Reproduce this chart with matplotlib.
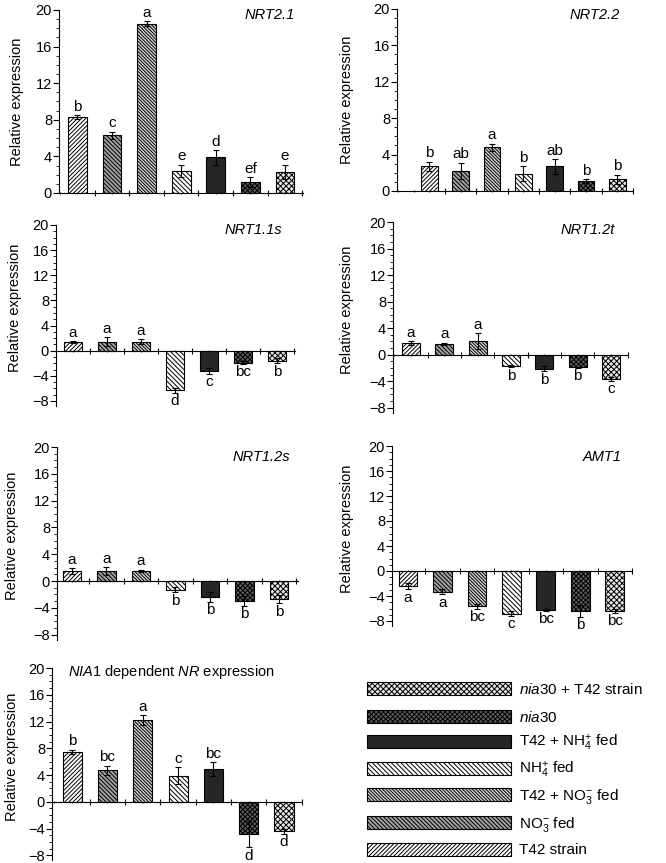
import numpy as np
import matplotlib
matplotlib.use('Agg')
import matplotlib.pyplot as plt
from matplotlib.ticker import MultipleLocator

plt.rcParams['font.family'] = ['Liberation Sans', 'DejaVu Sans']
plt.rcParams['mathtext.fontset'] = 'custom'
plt.rcParams['mathtext.rm'] = 'Liberation Sans'
plt.rcParams['mathtext.it'] = 'Liberation Sans:italic'
plt.rcParams['mathtext.bf'] = 'Liberation Sans:bold'
plt.rcParams['hatch.linewidth'] = 0.7

######## data
treatments = ['T42 strain', 'NO$_3^{-}$ fed', 'T42 + NO$_3^{-}$ fed', 'NH$_4^{+}$ fed',
              'T42 + NH$_4^{+}$ fed', r'$\it{nia30}$', r'$\it{nia30}$ + T42 strain']
xpos = [1, 2, 3, 4, 5, 6, 7]

nrt21_mean = [8.3, 6.3, 18.5, 2.4, 3.9, 1.2, 2.3]
nrt21_err = [0.2, 0.4, 0.3, 0.7, 0.8, 0.5, 0.8]
nrt21_let = ['b', 'c', 'a', 'e', 'd', 'ef', 'e']

nrt22_mean = [2.7, 2.2, 4.8, 1.9, 2.7, 1.1, 1.3]
nrt22_err = [0.5, 0.9, 0.4, 0.8, 0.8, 0.2, 0.5]
nrt22_let = ['b', 'ab', 'a', 'b', 'ab', 'b', 'b']

nrt11s_mean = [1.4, 1.4, 1.4, -6.3, -3.2, -1.9, -1.6]
nrt11s_err = [0.1, 0.7, 0.4, 0.4, 0.5, 0.2, 0.4]
nrt11s_let = ['a', 'a', 'a', 'd', 'c', 'bc', 'b']

nrt12t_mean = [1.7, 1.6, 2.0, -1.7, -2.1, -1.9, -3.6]
nrt12t_err = [0.3, 0.2, 1.2, 0.2, 0.4, 0.1, 0.3]
nrt12t_let = ['a', 'a', 'a', 'b', 'b', 'b', 'c']

nrt12s_mean = [1.5, 1.5, 1.5, -1.3, -2.4, -3.0, -2.7]
nrt12s_err = [0.4, 0.6, 0.2, 0.4, 0.7, 0.7, 0.6]
nrt12s_let = ['a', 'a', 'a', 'b', 'b', 'b', 'b']

amt1_mean = [-2.4, -3.3, -5.6, -6.8, -6.2, -6.4, -6.4]
amt1_err = [0.5, 0.4, 0.4, 0.4, 0.2, 0.9, 0.3]
amt1_let = ['a', 'a', 'bc', 'c', 'bc', 'b', 'bc']

nia1_mean = [7.5, 4.7, 12.2, 3.9, 4.9, -4.8, -4.4]
nia1_err = [0.3, 0.7, 0.7, 1.3, 1.0, 2.0, 0.4]
nia1_let = ['b', 'bc', 'a', 'c', 'bc', 'd', 'd']

######## bar styles
faces = ['white', '#a2a2a2', '#d4d4d4', 'white', '#262626', '#5e5e5e', '#e6e6e6']
hatches = ['/' * 8, '\\' * 8, '\\' * 10, '\\' * 7, '', 'x' * 7, 'x' * 6]

W, H = 666, 863
fig = plt.figure(figsize=(W / 100, H / 100), dpi=100)

# (left spine px, right end px, top px, bottom px), ylim bottom, xlim, ylabel offset px
panels = [
    (nrt21_mean, nrt21_err, nrt21_let, (59, 303, 10, 193), 0, (0.47, 7.52), 42),
    (nrt22_mean, nrt22_err, nrt22_let, (397, 633, 9, 191), 0, (-0.03, 7.48), 50),
    (nrt11s_mean, nrt11s_err, nrt11s_let, (56, 295, 225, 406), -8.8, (0.5, 7.53), 41),
    (nrt12t_mean, nrt12t_err, nrt12t_let, (393, 628, 222, 413), -8.8, (0.46, 7.51), 46),
    (nrt12s_mean, nrt12s_err, nrt12s_let, (57, 298, 447, 640), -8.8, (0.57, 7.55), 45),
    (amt1_mean, amt1_err, amt1_let, (392, 632, 446, 626), -8.8, (0.54, 7.49), 45),
    (nia1_mean, nia1_err, nia1_let, (52, 302, 668, 860), -8.7, (0.43, 7.51), 40),
]

legend_bars = None
for mean, err, let, (l, r, t, b), ybot, xl, lab_off in panels:
    ax = fig.add_axes([l / W, 1 - b / H, (r - l) / W, (b - t) / H])
    bars = []
    for i in range(7):
        bc = ax.bar(xpos[i], mean[i], width=0.54, color=faces[i], hatch=hatches[i],
                    edgecolor='black', linewidth=0.8, label=treatments[i], zorder=2)
        bars.append(bc)
    if legend_bars is None:
        legend_bars = bars
    ax.errorbar(xpos, mean, yerr=err, fmt='none', ecolor='black', elinewidth=0.8,
                capsize=2, capthick=0.8, zorder=3)
    for i in range(7):
        if mean[i] >= 0:
            ax.annotate(let[i], (xpos[i], mean[i] + err[i]), xytext=(0, 1), textcoords='offset points',
                        ha='center', va='bottom', fontsize=11)
        else:
            ax.annotate(let[i], (xpos[i], mean[i] - err[i]), xytext=(0, -1), textcoords='offset points',
                        ha='center', va='top', fontsize=11)
    ax.set_xlim(*xl)
    ax.set_ylim(ybot, 20)
    ax.spines['top'].set_visible(False)
    ax.spines['right'].set_visible(False)
    ax.spines['bottom'].set_position(('data', 0))
    ax.set_yticks(np.arange(-8 if ybot < 0 else 0, 21, 4))
    ax.yaxis.set_minor_locator(MultipleLocator(1))
    ax.set_xticks(np.arange(1.5, 7.6, 1))
    ax.xaxis.set_minor_locator(MultipleLocator(0.5))
    ax.tick_params(axis='x', which='major', direction='inout', length=5, labelbottom=False)
    ax.tick_params(axis='x', which='minor', direction='inout', length=2)
    ax.tick_params(axis='y', which='major', direction='out', length=4, labelsize=10.5, pad=1)
    ax.tick_params(axis='y', which='minor', direction='out', length=2)
    ax.set_ylabel('Relative expression', fontsize=10.5, va='center')
    ax.yaxis.set_label_coords(-lab_off / (r - l), 0.5 if ybot == 0 else 0.54)

######## gene names
fig.text(295 / W, 1 - 15 / H, 'NRT2.1', style='italic', fontsize=10.5, ha='right', va='center')
fig.text(620 / W, 1 - 15 / H, 'NRT2.2', style='italic', fontsize=10.5, ha='right', va='center')
fig.text(282 / W, 1 - 230 / H, 'NRT1.1s', style='italic', fontsize=10.5, ha='right', va='center')
fig.text(615 / W, 1 - 230 / H, 'NRT1.2t', style='italic', fontsize=10.5, ha='right', va='center')
fig.text(290 / W, 1 - 457 / H, 'NRT1.2s', style='italic', fontsize=10.5, ha='right', va='center')
fig.text(622 / W, 1 - 457 / H, 'AMT1', style='italic', fontsize=10.5, ha='right', va='center')
fig.text(68 / W, 1 - 672 / H, r'$\it{NIA1}$ dependent $\it{NR}$ expression', fontsize=10.5,
         ha='left', va='center')

######## legend, one row at a time so the rows are evenly spaced
legend_rows_px = [850, 824, 796, 770, 743, 717, 689]
for i in range(7):
    fig.legend(handles=[legend_bars[i]], labels=[treatments[i]],
               loc='center left', bbox_to_anchor=(367 / W, 1 - legend_rows_px[i] / H),
               frameon=False, borderpad=0, borderaxespad=0, fontsize=11, handlelength=9.4,
               handleheight=0.95, handletextpad=0.55)

plt.savefig('out.png', dpi=100)
